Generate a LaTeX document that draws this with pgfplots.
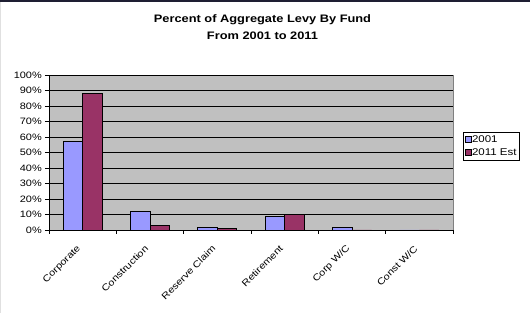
\documentclass[border=0pt]{standalone}
\usepackage{pgfplots}
\pgfplotsset{compat=1.18}
\usepackage{fontspec}
\setmainfont[FakeStretch=1.18]{Liberation Sans}
\definecolor{bluebar}{HTML}{9999FF}
\definecolor{redbar}{HTML}{993366}
\definecolor{plotbg}{HTML}{C0C0C0}
\definecolor{framegray}{HTML}{808080}
\begin{document}
\begin{tikzpicture}
\path[use as bounding box] (0bp,0bp) rectangle (530bp,313bp);
\fill[white] (0bp,0bp) rectangle (530bp,313bp);
\fill[color={rgb,255:red,30;green,30;blue,50}] (0bp,311bp) rectangle (530bp,313bp);
\draw[black!12, line width=0.8bp] (0.4bp,0bp) -- (0.4bp,311bp);
\node[font=\bfseries\fontsize{10.9}{13}\selectfont, anchor=base, inner sep=0pt] at (262.5bp,290.3bp) {Percent of Aggregate Levy By Fund};
\node[font=\bfseries\fontsize{10.9}{13}\selectfont, anchor=base, inner sep=0pt] at (262.5bp,273.7bp) {From 2001 to 2011};
\begin{axis}[
  at={(49bp,83bp)}, anchor=south west,
  scale only axis, width=404bp, height=155bp,
  ybar=0pt, bar width=19.5bp,
  xmin=-0.5, xmax=5.5, ymin=0, ymax=100,
  axis lines*=left,
  axis line style={black, line width=0.7bp},
  axis background/.style={fill=plotbg, draw=framegray},
  ymajorgrids, grid style={black, line width=0.7bp},
  ytick={0,10,...,100},
  yticklabel={\pgfmathprintnumber{\tick}\%},
  /pgf/number format/assume math mode=true,
  tick align=outside, major tick length=4bp,
  tick style={black, line width=0.7bp},
  xtick={0,...,5},
  xticklabels={Corporate,Construction,Reserve Claim,Retirement,Corp W/C,Const W/C},
  major x tick style={draw=none},
  extra x ticks={-0.5,0.5,1.5,2.5,3.5,4.5,5.5},
  extra x tick labels={},
  extra x tick style={major x tick style={draw=black, line width=0.7bp}},
  xticklabel style={xshift=-3bp, yshift=-12.6bp, rotate=45, anchor=east, font=\fontsize{9.3}{11}\selectfont, inner sep=0.5bp},
  yticklabel style={font=\fontsize{9.3}{11}\selectfont, inner sep=1bp, xshift=-2bp},
  legend style={at={(1.0248,0.632)}, anchor=north west, draw=black, fill=white,
    font=\fontsize{9.8}{11}\selectfont, row sep=3bp, inner xsep=1.5bp, inner ysep=2.5bp,
    nodes={inner sep=0.8bp}},
  legend cell align=left,
  legend image code/.code={\draw[#1, line width=0.5bp] (0bp,-3bp) rectangle (6bp,3bp);},
]
\addplot[fill=bluebar, draw=black, line width=0.7bp] coordinates {(0,57) (1,12) (2,1.5) (3,8.7) (4,1.5) (5,0)};
\addlegendentry{2001}
\addplot[fill=redbar, draw=black, line width=0.7bp] coordinates {(0,88) (1,3.2) (2,0.8) (3,9.8) (4,0) (5,0)};
\addlegendentry{2011 Est}
\end{axis}
\end{tikzpicture}
\end{document}
